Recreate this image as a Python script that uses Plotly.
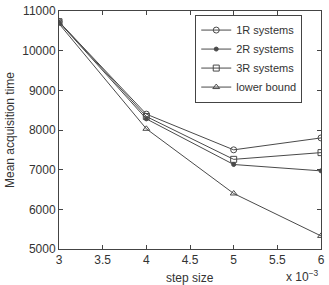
import plotly.graph_objects as go

step = [3, 4, 5, 6]
r1 = [10730, 8400, 7500, 7800]
r2 = [10720, 8280, 7130, 6970]
r3 = [10730, 8340, 7260, 7430]
lower = [10680, 8030, 6400, 5330]
xticks = [3, 3.5, 4, 4.5, 5, 5.5, 6]
yticks = [5000, 6000, 7000, 8000, 9000, 10000, 11000]

names = ["1R systems", "2R systems", "3R systems", "lower bound"]
series = [r1, r2, r3, lower]
symbols = ["circle-open", "circle", "square-open", "triangle-up-open"]
sizes = [6, 4, 6, 6]
line_col = "#4a4a4a"
FONT = "Liberation Sans, Arial"

fig = go.Figure()
for n, s, sym, sz in zip(names, series, symbols, sizes):
    fig.add_trace(go.Scatter(x=step, y=s, name=n, mode="lines+markers",
                             line=dict(color=line_col, width=1),
                             marker=dict(symbol=sym, size=sz, color=line_col,
                                         line=dict(color=line_col, width=1))))

axis_common = dict(showline=True, linecolor="#444", linewidth=1, mirror="ticks",
                   ticks="inside", ticklen=4, tickcolor="#444", showgrid=False,
                   zeroline=False, tickfont=dict(family=FONT, size=12, color="#333"))
fig.update_xaxes(range=[3, 6], tickvals=xticks,
                 ticktext=[f"{v:g}" for v in xticks], **axis_common)
fig.update_yaxes(range=[5000, 11000], tickvals=yticks,
                 ticktext=[str(v) for v in yticks],
                 title=dict(text="Mean acquisition time", standoff=5,
                            font=dict(family=FONT, size=12, color="#333")),
                 **axis_common)
fig.add_annotation(text="step size", xref="paper", yref="paper", x=0.5, y=-0.085,
                   showarrow=False, yanchor="top",
                   font=dict(family=FONT, size=12, color="#333"))
fig.add_annotation(text="x 10<sup>−3</sup>", xref="paper", yref="paper", x=1.0, y=-0.07,
                   showarrow=False, yanchor="top", xanchor="right",
                   font=dict(family=FONT, size=12, color="#333"))
fig.update_layout(width=329, height=285, margin=dict(l=59, r=4, t=7, b=36),
                  plot_bgcolor="white", paper_bgcolor="white",
                  legend=dict(x=0.52, y=0.985, xanchor="left", yanchor="top",
                              bordercolor="#444", borderwidth=1, bgcolor="white",
                              font=dict(family=FONT, size=11, color="#333"),
                              itemwidth=30, tracegroupgap=0),
                  showlegend=True)
fig.write_html("out.html")
